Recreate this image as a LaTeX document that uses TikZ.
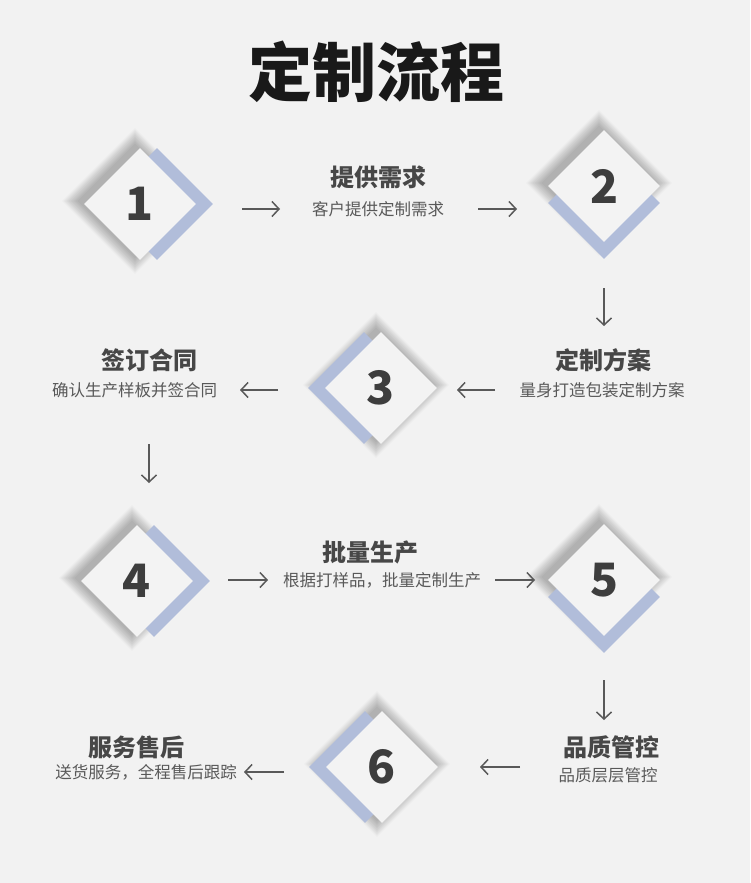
\documentclass[tikz,border=0pt]{standalone}
\usepackage{fontspec}
\newfontfamily\cjk{Noto Sans CJK SC}
\usetikzlibrary{positioning}
\usetikzlibrary{arrows.meta}
\usetikzlibrary{shapes.geometric}
\definecolor{pagebg}{HTML}{F2F2F2}
\definecolor{cardfill}{HTML}{F3F3F3}
\definecolor{chevfill}{HTML}{B1BDDA}
\definecolor{ink}{HTML}{3D3D3D}
\definecolor{inkgrey}{HTML}{595959}
\tikzset{
  glowlayer/.style={fill=black, opacity=0.022},
  chevbox/.style={diamond, minimum width=112pt, minimum height=112pt, inner sep=0pt, fill=chevfill},
  cardbox/.style={diamond, minimum width=112pt, minimum height=112pt, inner sep=0pt, fill=cardfill,
    text=ink, font=\cjk\bfseries\fontsize{46}{46}\selectfont},
  titletext/.style={text=ink!95, font=\cjk\bfseries\fontsize{24}{24}\selectfont},
  notetext/.style={text=inkgrey, font=\cjk\fontsize{16.5}{17}\selectfont},
  flow/.style={draw=inkgrey, line width=1.5pt, -{Straight Barb[length=7pt, width=15pt]}}
}
\begin{document}
\begin{tikzpicture}[x=1pt, y=-1pt]
      \fill[pagebg] (0,0) rectangle (750,883);
      \useasboundingbox (0,0) rectangle (750,883);
      \def\sh{17}
      \node[text=black!90, font=\cjk\bfseries\fontsize{64}{64}\selectfont] (head) at (376,72) {定制流程};
      \foreach \cx/\cy in {140/204, 604/186, 381/388, 137/581, 604/580, 382/767}
        \foreach \k in {1,...,12}
          \fill[glowlayer] (\cx-5-56-1.4*\k,\cy-3) -- (\cx-5,\cy-3-56-1.4*\k)
            -- (\cx-5+56+1.4*\k,\cy-3) -- (\cx-5,\cy-3+56+1.4*\k) -- cycle;
      \node[chevbox] (b1) at (140+\sh,204) {};
      \node[cardbox] (d1) at (140,204) {1};
      \node[chevbox] (b2) at (604,186+\sh) {};
      \node[cardbox] (d2) at (604,186) {2};
      \node[chevbox] (b3) at (381-\sh,388) {};
      \node[cardbox] (d3) at (381,388) {3};
      \node[chevbox] (b4) at (137+\sh,581) {};
      \node[cardbox] (d4) at (137,581) {4};
      \node[chevbox] (b5) at (604,580+\sh) {};
      \node[cardbox] (d5) at (604,580) {5};
      \node[chevbox] (b6) at (382-\sh,767) {};
      \node[cardbox] (d6) at (382,767) {6};
      \node[titletext] (t1) at (378,177) {提供需求};
      \node[notetext] (n1) at (378,209) {客户提供定制需求};
      \node[titletext] (t2) at (603,360) {定制方案};
      \node[notetext] (n2) at (602,390) {量身打造包装定制方案};
      \node[titletext] (t3) at (149,360) {签订合同};
      \node[notetext] (n3) at (134.5,390) {确认生产样板并签合同};
      \node[titletext] (t4) at (370,552) {批量生产};
      \node[notetext] (n4) at (382,580) {根据打样品，批量定制生产};
      \node[titletext] (t5) at (611,747) {品质管控};
      \node[notetext] (n5) at (608,775) {品质层层管控};
      \node[titletext] (t6) at (136,747) {服务售后};
      \node[notetext] (n6) at (146,772) {送货服务，全程售后跟踪};
      \draw[flow, shorten <=102pt, shorten >=98pt] (d1 |- n1) -- (n1.center);
      \draw[flow, shorten <=100pt, shorten >=87pt] (n1.center) -- (d2 |- n1);
      \draw[flow, shorten <=102pt, shorten >=64pt] (d2.center) -- (d2 |- n2);
      \draw[flow, shorten <=107pt, shorten >=76pt] (n2.center) -- (d3 |- n2);
      \draw[flow, shorten <=103pt, shorten >=105.5pt] (d3 |- n3) -- (n3.center);
      \draw[flow, shorten <=84pt, shorten >=98pt] (t3.center) -- (t3 |- d4);
      \draw[flow, shorten <=91pt, shorten >=114pt] (d4 |- n4) -- (n4.center);
      \draw[flow, shorten <=113pt, shorten >=69pt] (n4.center) -- (d5 |- n4);
      \draw[flow, shorten <=100pt, shorten >=55pt] (d5.center) -- (d5 |- n5);
      \draw[flow, shorten <=88pt, shorten >=98pt] (d6 -| n5) -- (d6.center);
      \draw[flow, shorten <=98pt, shorten >=98pt] (d6 |- n6) -- (n6.center);
    \end{tikzpicture}
\end{document}
